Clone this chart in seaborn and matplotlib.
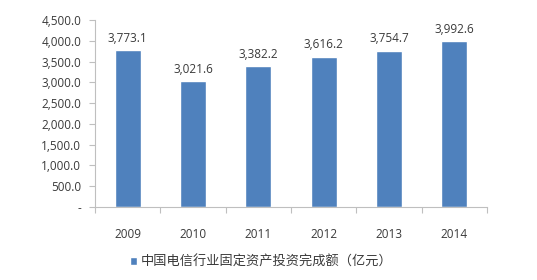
import matplotlib
matplotlib.use("Agg")
import matplotlib.pyplot as plt
import seaborn as sns
import numpy as np
import pandas as pd
from matplotlib.ticker import FuncFormatter, FixedLocator

years = ["2009", "2010", "2011", "2012", "2013", "2014"]
values = [3773.1, 3021.6, 3382.2, 3616.2, 3754.7, 3992.6]
series_name = "中国电信行业固定资产投资完成额（亿元）"

sns.set_theme(style="white")
plt.rcParams['font.family'] = ['Open Sans', 'Noto Sans CJK SC', 'DejaVu Sans']

df = pd.DataFrame({"year": years, "value": values})

fig = plt.figure(figsize=(5.37, 2.8), dpi=100)
ax = fig.add_axes([95/537, 1-207/280, (487-95)/537, (207-20)/280])

bar_color = "#4F81BD"
sns.barplot(data=df, x="year", y="value", color=bar_color, width=0.4,
            label=series_name, ax=ax, saturation=1)

ax.set_ylim(0, 4500)
ax.set_xlim(-0.5, 5.5)
ax.set_yticks(np.arange(0, 4501, 500))
ax.yaxis.set_major_formatter(FuncFormatter(lambda v, p: "-" if v == 0 else f"{v:,.1f}"))
ax.set_xlabel("")
ax.set_ylabel("")

txt = "#3A3A3A"
fs = 8.5
for c in ax.containers:
    ax.bar_label(c, labels=[f"{v:,.1f}" for v in values], padding=4, fontsize=fs, color=txt)

for s in ["top", "right"]:
    ax.spines[s].set_visible(False)
for s in ["left", "bottom"]:
    ax.spines[s].set_color("#BFBFBF")
    ax.spines[s].set_linewidth(0.8)

ax.tick_params(axis="y", left=True, length=4, width=0.8, color="#BFBFBF",
               labelsize=fs, labelcolor=txt, pad=6)
ax.tick_params(axis="x", bottom=False, labelsize=fs, labelcolor=txt, pad=9)
ax.xaxis.set_minor_locator(FixedLocator(np.arange(-0.5, 6.0, 1.0)))
ax.tick_params(axis="x", which="minor", bottom=True, length=4, width=0.8, color="#BFBFBF")

leg = ax.legend(loc="center left", bbox_to_anchor=(130/537, 1-262/280), bbox_transform=fig.transFigure,
                frameon=False, fontsize=9.5, handlelength=0.55, handleheight=0.55,
                handletextpad=0.3, borderaxespad=0, borderpad=0)
for t in leg.get_texts():
    t.set_color(txt)
    t.set_family(['Noto Sans CJK SC', 'DejaVu Sans'])

fig.savefig("out.png", dpi=100)
